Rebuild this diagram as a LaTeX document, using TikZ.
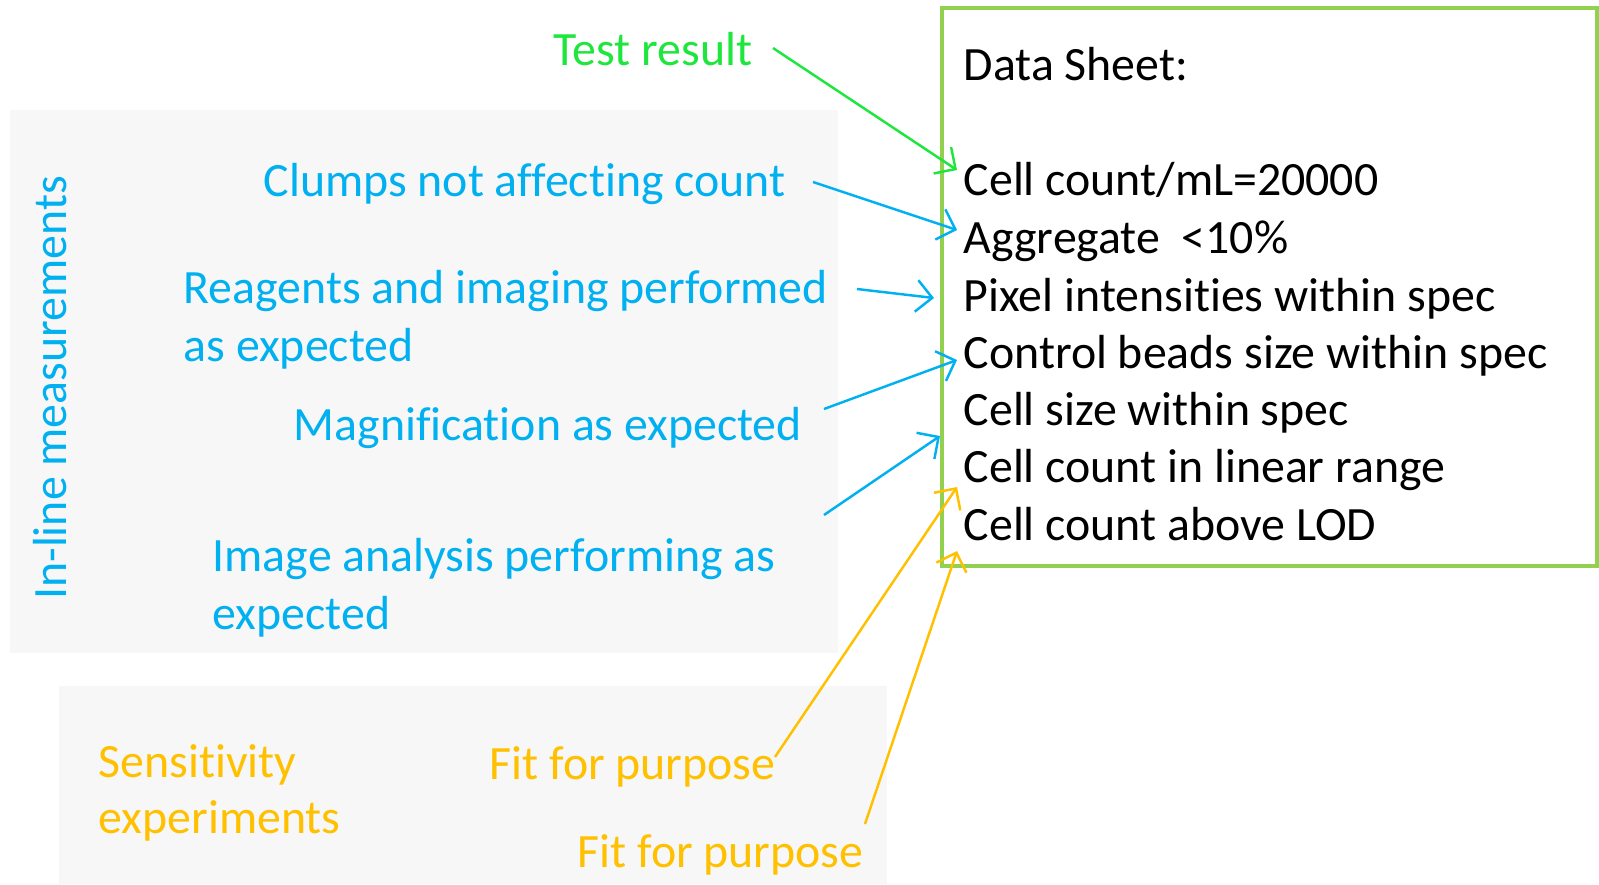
\documentclass[tikz,border=0pt]{standalone}
\usepackage{fontspec}
\setmainfont{Carlito}[Ligatures={NoCommon,NoRare,NoContextual}]
\usetikzlibrary{arrows.meta}
\definecolor{cblue}{HTML}{00B0F0}
\definecolor{cgreen}{HTML}{1EE63C}
\definecolor{corange}{HTML}{FFC000}
\definecolor{cbox}{HTML}{92D050}
\definecolor{cgray}{HTML}{F7F7F7}
\begin{document}
\begin{tikzpicture}[x=0.01cm,y=-0.01cm,
  txt/.style={anchor=base west, inner sep=0pt, font=\fontsize{13.6}{16.4}\selectfont},
  conn/.style={line width=0.7pt, -{Straight Barb[length=4.5pt,width=9pt]}}]
\useasboundingbox (0,0) rectangle (1599,884);
% backgrounds
\fill[cgray] (10,110) rectangle (838,653);
\fill[cgray] (59,686) rectangle (887,884);
% data sheet box
\draw[cbox, line width=1.2pt] (942,8) rectangle (1597,566);
\node[txt] (ds)  at (963,80)  {Data Sheet:};
\node[txt] (d1) at (963,195) {Cell count/mL=20000};
\node[txt] (d2) at (963,253) {Aggregate~~<10\%};
\node[txt] (d3) at (963,311) {Pixel intensities within spec};
\node[txt] (d4) at (963,368) {Control beads size within spec};
\node[txt] (d5) at (963,425) {Cell size within spec};
\node[txt] (d6) at (963,482) {Cell count in linear range};
\node[txt] (d7) at (963,540) {Cell count above LOD};
% side label
\node[inner sep=0pt, anchor=base, rotate=90, text=cblue, font=\fontsize{13.6}{16.4}\selectfont] (inl) at (67,388) {In-line measurements};
% left texts
\node[txt, text=cgreen] (test) at (553,65) {Test result};
\node[txt, text=cblue] (clump) at (263,196) {Clumps not affecting count};
\node[txt, text=cblue] (reag1) at (183,303) {Reagents and imaging performed};
\node[txt, text=cblue] (reag2) at (183,361) {as expected};
\node[txt, text=cblue] (mag) at (293,440) {Magnification as expected};
\node[txt, text=cblue] (img1) at (212,571) {Image analysis performing as};
\node[txt, text=cblue] (img2) at (212,629) {expected};
\node[txt, text=corange] (sens1) at (98,777) {Sensitivity};
\node[txt, text=corange] (sens2) at (98,833) {experiments};
\node[txt, text=corange] (fit1) at (489,779) {Fit for purpose};
\node[txt, text=corange] (fit2) at (577,867) {Fit for purpose};
% arrow coordinates
\coordinate (gS) at (773,48);  \coordinate (gE) at (957,170);
\coordinate (b1S) at (813,182); \coordinate (b1E) at (957,230);
\coordinate (b2S) at (857,289); \coordinate (b2E) at (934,298);
\coordinate (b3S) at (824,409); \coordinate (b3E) at (957,360);
\coordinate (b4S) at (824,515); \coordinate (b4E) at (940,436);
\coordinate (o1S) at (775,757); \coordinate (o1E) at (957,487);
\coordinate (o2S) at (865,824); \coordinate (o2E) at (957,551);
\draw[conn, cgreen] (gS) -- (gE);
\draw[conn, cblue] (b1S) -- (b1E);
\draw[conn, cblue] (b2S) -- (b2E);
\draw[conn, cblue] (b3S) -- (b3E);
\draw[conn, cblue] (b4S) -- (b4E);
\draw[conn, corange] (o1S) -- (o1E);
\draw[conn, corange] (o2S) -- (o2E);
\end{tikzpicture}
\end{document}
